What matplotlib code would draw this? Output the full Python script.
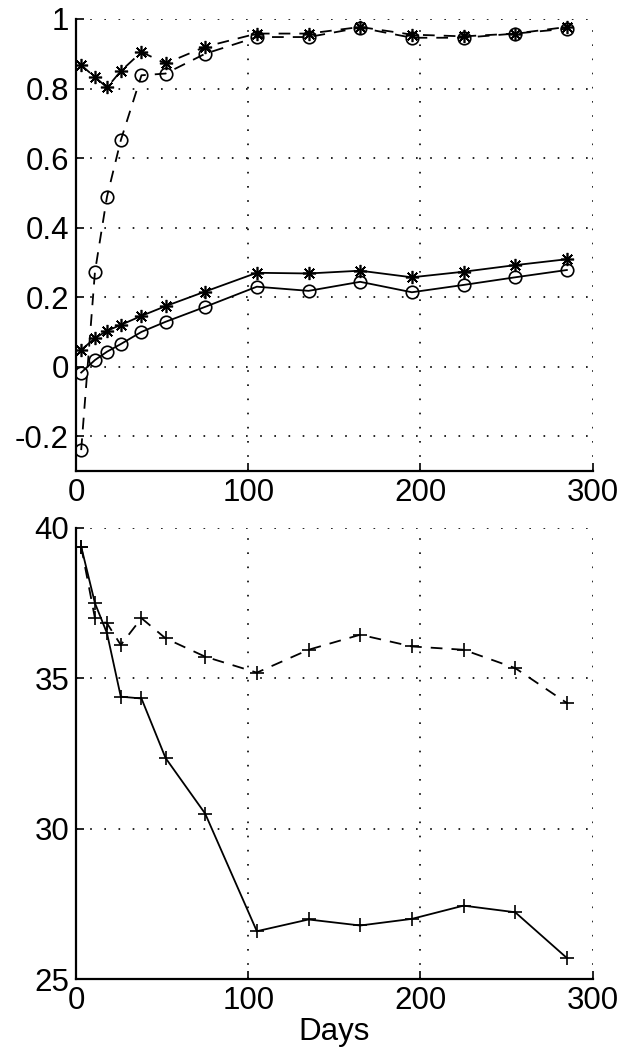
import numpy as np
import matplotlib
matplotlib.use('Agg')
import matplotlib.pyplot as plt

plt.rcParams['font.family'] = ['Liberation Sans', 'DejaVu Sans']

##############################################
# Data

days = [3, 11, 18, 26, 38, 52, 75, 105, 135, 165, 195, 225, 255, 285]

# top panel
star_dashed   = [0.867, 0.833, 0.803, 0.850, 0.905, 0.872, 0.920, 0.958, 0.958, 0.977, 0.955, 0.950, 0.958, 0.977]
circle_dashed = [-0.24, 0.273, 0.489, 0.651, 0.838, 0.843, 0.900, 0.948, 0.948, 0.975, 0.946, 0.946, 0.958, 0.972]
star_solid    = [0.048, 0.082, 0.103, 0.120, 0.146, 0.174, 0.216, 0.270, 0.268, 0.276, 0.257, 0.273, 0.292, 0.309]
circle_solid  = [-0.017, 0.019, 0.043, 0.065, 0.100, 0.129, 0.172, 0.230, 0.218, 0.244, 0.214, 0.235, 0.257, 0.278]

# bottom panel
plus_solid  = [39.38, 37.50, 36.50, 34.39, 34.33, 32.35, 30.50, 26.59, 26.98, 26.78, 27.00, 27.44, 27.22, 25.70]
plus_dashed = [39.38, 37.00, 36.83, 36.11, 37.00, 36.33, 35.72, 35.19, 35.95, 36.45, 36.06, 35.95, 35.34, 34.18]

FS = 22.5
LW = 1.3
DASH = (0, (6.5, 5))
GRID_DOTS = (0, (1, 7.5))

fig = plt.figure(figsize=(6.22, 10.6), dpi=100)
ax1 = fig.add_axes([0.1222, 0.5557, 0.8307, 0.4264])
ax2 = fig.add_axes([0.1222, 0.0764, 0.8307, 0.4255])

asterisk = (8, 2, 0)

ax1.plot(days, star_dashed, color='k', lw=LW, linestyle=DASH, marker=asterisk, ms=9.5, mew=1.2)
ax1.plot(days, circle_dashed, color='k', lw=LW, linestyle=DASH, marker='o', ms=9, mfc='none', mew=1.2)
ax1.plot(days, star_solid, color='k', lw=LW, linestyle='-', marker=asterisk, ms=9.5, mew=1.2)
ax1.plot(days, circle_solid, color='k', lw=LW, linestyle='-', marker='o', ms=9, mfc='none', mew=1.2)
ax1.set_ylim(-0.3, 1)
ax1.set_yticks([-0.2, 0, 0.2, 0.4, 0.6, 0.8, 1])
ax1.set_yticklabels(['-0.2', '0', '0.2', '0.4', '0.6', '0.8', '1'])

ax2.plot(days, plus_solid, color='k', lw=LW, linestyle='-', marker='+', ms=10.5, mew=1.2)
ax2.plot(days, plus_dashed, color='k', lw=LW, linestyle=DASH, marker='+', ms=10.5, mew=1.2)
ax2.set_ylim(25, 40)
ax2.set_yticks([25, 30, 35, 40])
ax2.set_xlabel('Days', fontsize=FS, labelpad=1)

for ax in (ax1, ax2):
    ax.set_xlim(0, 300)
    ax.set_xticks([0, 100, 200, 300])
    ax.grid(True, color='k', linestyle=GRID_DOTS, lw=1.2)
    ax.spines['top'].set_visible(False)
    ax.spines['right'].set_visible(False)
    ax.spines['left'].set_linewidth(1.6)
    ax.spines['bottom'].set_linewidth(1.6)
    ax.tick_params(direction='in', length=6, width=1.2, labelsize=FS, pad=5)

fig.savefig('out.png', dpi=100)
